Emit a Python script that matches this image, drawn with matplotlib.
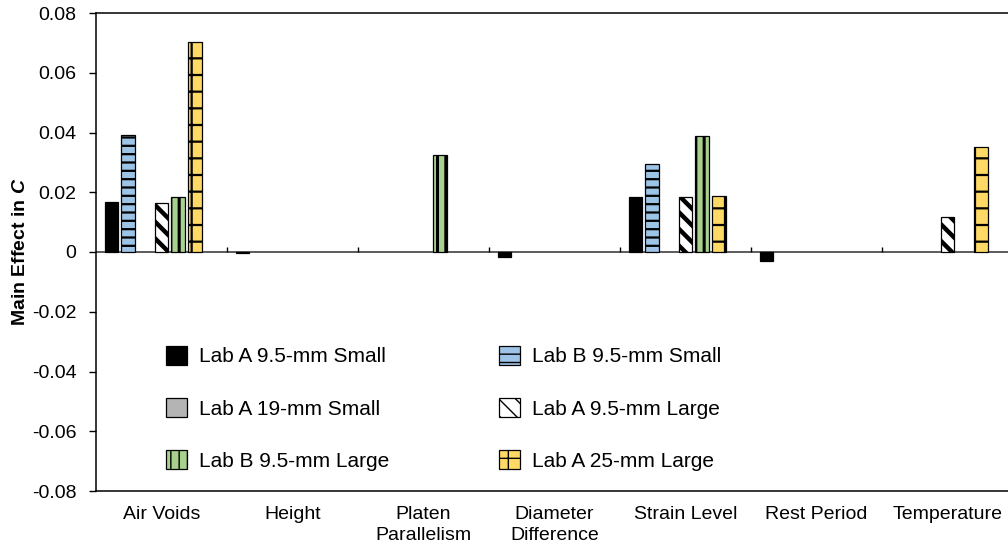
import matplotlib
matplotlib.use("Agg")
import matplotlib.pyplot as plt
import numpy as np

plt.rcParams['font.family'] = ['Liberation Sans', 'DejaVu Sans']
plt.rcParams['mathtext.fontset'] = 'custom'
plt.rcParams['mathtext.bfit'] = 'Liberation Sans:italic:bold'
plt.rcParams['mathtext.it'] = 'Liberation Sans:italic'
plt.rcParams['mathtext.bf'] = 'Liberation Sans:bold'

categories = ["Air Voids", "Height", "Platen\nParallelism", "Diameter\nDifference",
              "Strain Level", "Rest Period", "Temperature"]

series_names = ["Lab A 9.5-mm Small", "Lab B 9.5-mm Small", "Lab A 19-mm Small",
                "Lab A 9.5-mm Large", "Lab B 9.5-mm Large", "Lab A 25-mm Large"]

lab_a_95_small = [0.0166, -0.0005, 0.0, -0.0017, 0.0184, -0.0029, 0.0]
lab_b_95_small = [0.0390, 0.0, 0.0, 0.0, 0.0296, 0.0, 0.0]
lab_a_19_small = [0.0, 0.0, 0.0, 0.0, 0.0, 0.0, 0.0]
lab_a_95_large = [0.0164, 0.0, 0.0, 0.0, 0.0183, 0.0, 0.0116]
lab_b_95_large = [0.0184, 0.0, 0.0324, 0.0, 0.0387, 0.0, 0.0]
lab_a_25_large = [0.0703, 0.0, 0.0, 0.0, 0.0186, 0.0, 0.0351]

yticks = [-0.08, -0.06, -0.04, -0.02, 0, 0.02, 0.04, 0.06, 0.08]
ytick_labels = ["-0.08", "-0.06", "-0.04", "-0.02", "0", "0.02", "0.04", "0.06", "0.08"]

series = [lab_a_95_small, lab_b_95_small, lab_a_19_small,
          lab_a_95_large, lab_b_95_large, lab_a_25_large]
facecolors = ["black", "#9dc3e6", "#b4b4b4", "white", "#a9d18e", "#ffd966"]
hatches = [None, "--", None, "\\\\", "||", "+"]
hatch_lw = [1.0, 1.6, 1.0, 3.2, 2.2, 1.6]

fig = plt.figure(figsize=(10.08, 5.5), dpi=100)
W, H = 1008, 550
left, right, top, bottom = 96, 1013, 13, 491
ax = fig.add_axes([left / W, 1 - bottom / H, (right - left) / W, (bottom - top) / H])

x = np.arange(len(categories))
slot = 16.7 / 131
bw = 13.5 / 131
handles = []
for s, (vals, fc, h, hl) in enumerate(zip(series, facecolors, hatches, hatch_lw)):
    v = np.array(vals, dtype=float)
    v[v == 0] = np.nan  # no bar drawn where there is no effect
    with plt.rc_context({'hatch.linewidth': hl, 'hatch.color': 'black'}):
        bars = ax.bar(x + (s - 3) * slot, v, width=bw, color=fc, edgecolor="black",
                      linewidth=0.9, hatch=h, label=series_names[s], zorder=3)
    handles.append(bars)

ax.set_xlim(-0.5, len(categories) - 0.5)
ax.set_ylim(-0.08, 0.08)
ax.set_yticks(yticks)
ax.set_yticklabels(ytick_labels, fontsize=14)
ax.tick_params(axis='y', direction='out', length=5, width=1, pad=9)
ax.set_xticks(x)
ax.set_xticklabels(categories, fontsize=14, linespacing=1.25)
ax.tick_params(axis='x', length=0, pad=11)

ax.axhline(0, color="#404040", linewidth=1.2, zorder=2)
bounds = x[:-1] + 0.5
ax.vlines(bounds, 0, 0.0017, color="black", linewidth=1, zorder=2)

for sp in ['top', 'bottom', 'left', 'right']:
    ax.spines[sp].set_linewidth(1.1)
    ax.spines[sp].set_color("black")

ax.set_ylabel(r"Main Effect in $\mathbfit{C}$", fontsize=14, fontweight='bold', labelpad=2)

common = dict(frameon=False, fontsize=15, handlelength=1.0, handleheight=1.0,
              handletextpad=0.6, labelspacing=1.52, borderpad=0, borderaxespad=0,
              loc='upper left')
leg1 = fig.legend([handles[i] for i in (0, 2, 4)], [series_names[i] for i in (0, 2, 4)],
                  bbox_to_anchor=(166 / W, 1 - 346 / H), **common)
leg2 = fig.legend([handles[i] for i in (1, 3, 5)], [series_names[i] for i in (1, 3, 5)],
                  bbox_to_anchor=(499 / W, 1 - 346 / H), **common)

fig.savefig("out.png", dpi=100)
